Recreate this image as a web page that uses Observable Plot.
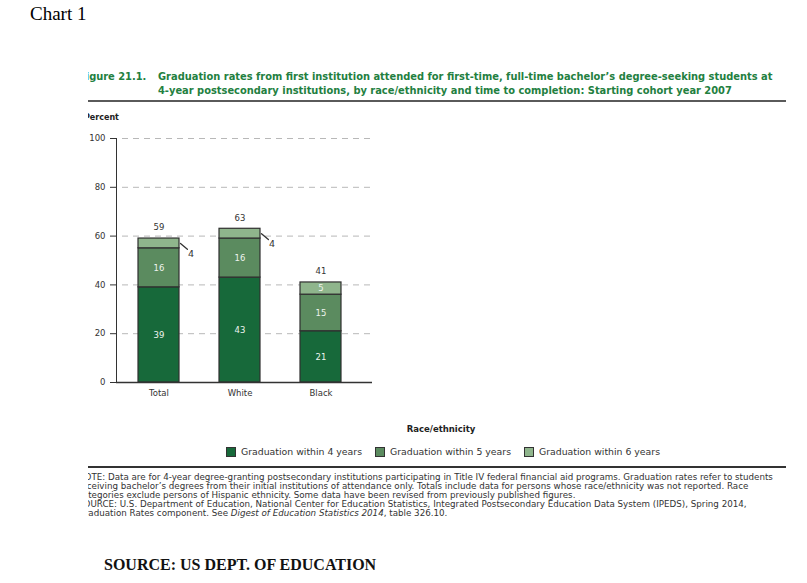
<!DOCTYPE html>
<html><head><meta charset="utf-8">
<script src="https://cdn.jsdelivr.net/npm/d3@7"></script>
<script src="https://cdn.jsdelivr.net/npm/@observablehq/plot@0.6"></script>
<style>
body{margin:0;background:#fff;width:807px;height:583px;position:relative;overflow:hidden;}
.abs{position:absolute;white-space:nowrap;}
#chart1{left:30px;top:3px;font:19px "Liberation Serif","Times New Roman",serif;color:#000;}
#source{left:104px;top:556px;font:bold 16px "Liberation Serif","Times New Roman",serif;color:#111;}
#fig{position:absolute;left:88px;top:60px;width:700px;height:470px;overflow:hidden;font-family:"DejaVu Sans",sans-serif;}
.title{font-weight:bold;color:#23803f;font-size:11px;line-height:14px;}
.rule{position:absolute;left:0;width:698px;}
.note{font-size:7.5px;color:#333;line-height:9px;left:-10px;}
.item{position:absolute;top:386px;display:flex;align-items:center;font-size:8.7px;color:#333;line-height:12px;}
.item .sw{width:8px;height:8px;border:1px solid #333;margin-right:5px;}
#plotbox{position:absolute;left:-8px;top:65px;}
</style></head>
<body>
<div id="chart1" class="abs">Chart 1</div>
<div id="fig">
  <div id="figno" class="abs title" style="left:-9px;top:10px;">Figure 21.1.</div>
  <div id="t1" class="abs title" style="left:70px;top:10px;"></div>
  <div id="t2" class="abs title" style="left:70px;top:24px;"></div>
  <div class="rule" style="top:40px;height:2px;background:#5a5a5a;"></div>
  <div id="ylab" class="abs" style="left:-4px;top:53px;font-weight:bold;font-size:8px;color:#222;">Percent</div>
  <div id="plotbox"></div>
  <div id="xlab" class="abs" style="left:353px;top:364px;transform:translateX(-50%);font-weight:bold;font-size:8.5px;color:#222;">Race/ethnicity</div>
  <div id="legend"></div>
  <div class="rule" style="top:406px;height:1.5px;background:#333;"></div>
  <div id="notes"></div>
</div>
<div id="source" class="abs">SOURCE: US DEPT. OF EDUCATION</div>
<script>
const categories = ["Total", "White", "Black"];
const seriesNames = ["Graduation within 4 years", "Graduation within 5 years", "Graduation within 6 years"];
const within4 = [39, 43, 21];
const within5 = [16, 16, 15];
const within6 = [4, 4, 5];
const totals = [59, 63, 41];
const seriesColors = ["#17693a", "#5b8b5f", "#8fb58c"];
const yTicks = [0, 20, 40, 60, 80, 100];
const titleLines = [
  "Graduation rates from first institution attended for first-time, full-time bachelor\u2019s degree-seeking students at",
  "4-year postsecondary institutions, by race/ethnicity and time to completion: Starting cohort year 2007"
];
const noteLines = [
  "NOTE: Data are for 4-year degree-granting postsecondary institutions participating in Title IV federal financial aid programs. Graduation rates refer to students",
  "receiving bachelor\u2019s degrees from their initial institutions of attendance only. Totals include data for persons whose race/ethnicity was not reported. Race",
  "categories exclude persons of Hispanic ethnicity. Some data have been revised from previously published figures.",
  "SOURCE: U.S. Department of Education, National Center for Education Statistics, Integrated Postsecondary Education Data System (IPEDS), Spring 2014,",
  "Graduation Rates component. See <i>Digest of Education Statistics 2014</i>, table 326.10."
];

function fitSize(el, target) {
  const w = el.getBoundingClientRect().width;
  const fs = parseFloat(getComputedStyle(el).fontSize);
  return fs * target / w;
}

// title
document.getElementById("t1").textContent = titleLines[0];
document.getElementById("t2").textContent = titleLines[1];
const tfs = fitSize(document.getElementById("t1"), 615);
["t1", "t2", "figno"].forEach(id => document.getElementById(id).style.fontSize = tfs + "px");

// notes
const notes = document.getElementById("notes");
noteLines.forEach((t, i) => {
  const d = document.createElement("div");
  d.className = "abs note";
  d.style.top = (413 + i * 9) + "px";
  d.innerHTML = t;
  notes.appendChild(d);
});
const nfs = fitSize(notes.firstChild, 696);
notes.querySelectorAll(".note").forEach(d => d.style.fontSize = nfs + "px");

// legend
const legend = document.getElementById("legend");
const legendLeft = [138, 287, 436];
const spans = [];
seriesNames.forEach((s, i) => {
  const it = document.createElement("div");
  it.className = "item";
  it.style.left = legendLeft[i] + "px";
  it.innerHTML = `<div class="sw" style="background:${seriesColors[i]}"></div><span>${s}</span>`;
  legend.appendChild(it);
  spans.push(it.querySelector("span"));
});
const lfs = fitSize(spans[0], 121);
legend.querySelectorAll(".item").forEach(d => d.style.fontSize = lfs + "px");

// data rows
const rows = [];
categories.forEach((c, i) => {
  [within4, within5, within6].forEach((arr, j) =>
    rows.push({category: c, series: seriesNames[j], value: arr[i], total: totals[i]}));
});
const outside = rows.filter(d => d.value < 5);
const totalRows = categories.map((c, i) => ({category: c, total: totals[i]}));

const plot = Plot.plot({
  width: 300, height: 280,
  marginLeft: 36, marginRight: 8, marginTop: 13, marginBottom: 23,
  style: {fontFamily: "DejaVu Sans", fontSize: "8.5px", color: "#333", background: "transparent", overflow: "visible"},
  x: {domain: categories, range: [31, 287], paddingInner: 0.497, paddingOuter: 0.319, tickSize: 0, tickPadding: 7, label: null},
  y: {domain: [0, 100], ticks: yTicks, tickSize: 6, tickPadding: 5, label: null, line: true},
  color: {domain: seriesNames, range: seriesColors},
  marks: [
    Plot.ruleY(yTicks.filter(t => t > 0), {stroke: "#b8b8b8", strokeDasharray: "6,5", insetLeft: 6}),
    Plot.barY(rows, {x: "category", y: "value", fill: "series", stroke: "#2f2f2f", strokeWidth: 1.2}),
    Plot.text(rows, Plot.stackY({x: "category", y: "value", z: "series",
      text: d => d.value >= 5 ? String(d.value) : "", fill: "#eef3ee", fontSize: 8.5})),
    Plot.vector(outside, {x: "category", y: "total", dx: 21.5, dy: 5, length: 9, rotate: 130, anchor: "start", r: 0, stroke: "#333", strokeWidth: 1.3}),
    Plot.text(outside, {x: "category", y: "total", text: "value", dx: 32, dy: 15, fill: "#333", fontSize: 9.5}),
    Plot.text(totalRows, {x: "category", y: "total", text: "total", dy: -11, fill: "#333", fontSize: 8.5}),
    Plot.ruleY([0], {stroke: "#333", strokeWidth: 1.5})
  ]
});
document.getElementById("plotbox").appendChild(plot);
</script>
</body></html>
